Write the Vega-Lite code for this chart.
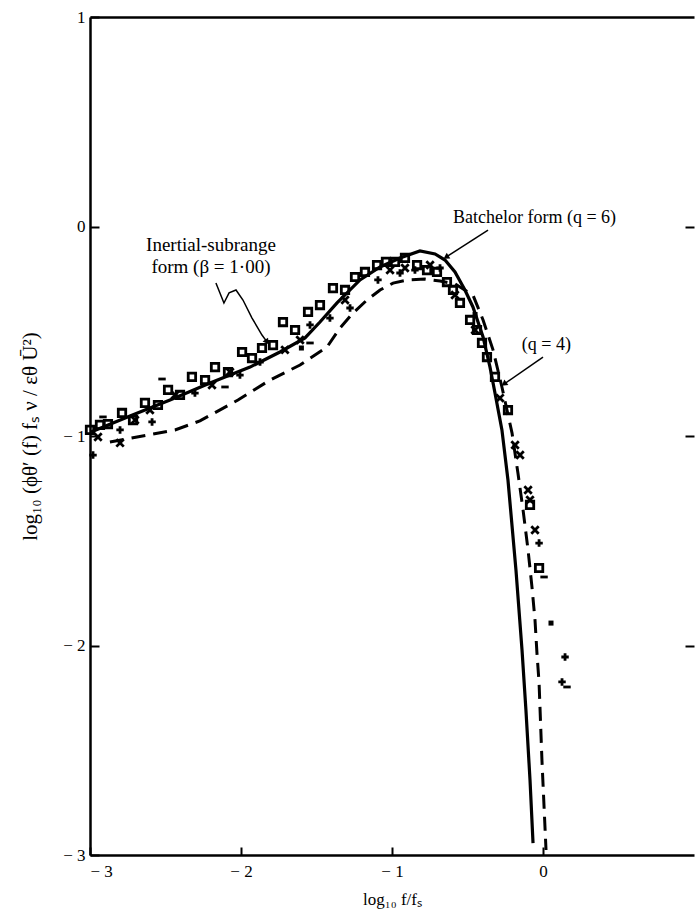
{
  "$schema": "https://vega.github.io/schema/vega-lite/v6.json",
  "width": 604,
  "height": 838,
  "autosize": {"type": "none"},
  "padding": {"left": 90, "top": 17, "right": 1, "bottom": 58},
  "background": "white",
  "config": {
    "view": {"stroke": null},
    "font": "Liberation Serif",
    "axis": {
      "labelFont": "Liberation Serif",
      "titleFont": "Liberation Serif",
      "domainColor": "black",
      "tickColor": "black",
      "labelColor": "black",
      "titleColor": "black",
      "grid": false,
      "domainWidth": 2.5,
      "tickWidth": 2,
      "labelFontSize": 17,
      "titleFontSize": 17,
      "titleFontWeight": "normal"
    }
  },
  "datasets": {
    "pts": [
      {"x": -3.0, "y": -0.971, "type": "sq"},
      {"x": -2.934, "y": -0.947, "type": "sq"},
      {"x": -2.881, "y": -0.943, "type": "sq"},
      {"x": -2.788, "y": -0.89, "type": "sq"},
      {"x": -2.715, "y": -0.924, "type": "sq"},
      {"x": -2.636, "y": -0.842, "type": "sq"},
      {"x": -2.55, "y": -0.852, "type": "sq"},
      {"x": -2.483, "y": -0.78, "type": "sq"},
      {"x": -2.404, "y": -0.804, "type": "sq"},
      {"x": -2.325, "y": -0.718, "type": "sq"},
      {"x": -2.238, "y": -0.733, "type": "sq"},
      {"x": -2.172, "y": -0.671, "type": "sq"},
      {"x": -2.086, "y": -0.695, "type": "sq"},
      {"x": -1.993, "y": -0.599, "type": "sq"},
      {"x": -1.927, "y": -0.628, "type": "sq"},
      {"x": -1.861, "y": -0.58, "type": "sq"},
      {"x": -1.788, "y": -0.566, "type": "sq"},
      {"x": -1.722, "y": -0.456, "type": "sq"},
      {"x": -1.642, "y": -0.494, "type": "sq"},
      {"x": -1.556, "y": -0.408, "type": "sq"},
      {"x": -1.477, "y": -0.375, "type": "sq"},
      {"x": -1.391, "y": -0.294, "type": "sq"},
      {"x": -1.311, "y": -0.303, "type": "sq"},
      {"x": -1.245, "y": -0.241, "type": "sq"},
      {"x": -1.179, "y": -0.217, "type": "sq"},
      {"x": -1.099, "y": -0.184, "type": "sq"},
      {"x": -1.04, "y": -0.169, "type": "sq"},
      {"x": -0.98, "y": -0.169, "type": "sq"},
      {"x": -0.914, "y": -0.15, "type": "sq"},
      {"x": -0.834, "y": -0.184, "type": "sq"},
      {"x": -0.768, "y": -0.208, "type": "sq"},
      {"x": -0.702, "y": -0.217, "type": "sq"},
      {"x": -0.636, "y": -0.265, "type": "sq"},
      {"x": -0.596, "y": -0.303, "type": "sq"},
      {"x": -0.55, "y": -0.365, "type": "sq"},
      {"x": -0.483, "y": -0.446, "type": "sq"},
      {"x": -0.437, "y": -0.494, "type": "sq"},
      {"x": -0.404, "y": -0.556, "type": "sq"},
      {"x": -0.371, "y": -0.623, "type": "sq"},
      {"x": -0.318, "y": -0.718, "type": "sq"},
      {"x": -0.232, "y": -0.876, "type": "sq"},
      {"x": -0.086, "y": -1.329, "type": "sq"},
      {"x": -0.026, "y": -1.63, "type": "sq"},
      {"x": -2.947, "y": -1.005, "type": "x"},
      {"x": -2.801, "y": -1.033, "type": "x"},
      {"x": -2.702, "y": -0.924, "type": "x"},
      {"x": -2.603, "y": -0.876, "type": "x"},
      {"x": -2.437, "y": -0.804, "type": "x"},
      {"x": -2.192, "y": -0.757, "type": "x"},
      {"x": -2.073, "y": -0.694, "type": "x"},
      {"x": -1.709, "y": -0.589, "type": "x"},
      {"x": -1.609, "y": -0.542, "type": "x"},
      {"x": -1.311, "y": -0.351, "type": "x"},
      {"x": -1.013, "y": -0.208, "type": "x"},
      {"x": -0.914, "y": -0.198, "type": "x"},
      {"x": -0.748, "y": -0.184, "type": "x"},
      {"x": -0.583, "y": -0.327, "type": "x"},
      {"x": -0.45, "y": -0.494, "type": "x"},
      {"x": -0.285, "y": -0.819, "type": "x"},
      {"x": -0.185, "y": -1.043, "type": "x"},
      {"x": -0.152, "y": -1.091, "type": "x"},
      {"x": -0.099, "y": -1.258, "type": "x"},
      {"x": -0.086, "y": -1.305, "type": "x"},
      {"x": -0.053, "y": -1.449, "type": "x"},
      {"x": -2.98, "y": -1.091, "type": "plus"},
      {"x": -2.801, "y": -0.971, "type": "plus"},
      {"x": -2.589, "y": -0.933, "type": "plus"},
      {"x": -2.305, "y": -0.795, "type": "plus"},
      {"x": -2.007, "y": -0.709, "type": "plus"},
      {"x": -1.874, "y": -0.647, "type": "plus"},
      {"x": -1.543, "y": -0.47, "type": "plus"},
      {"x": -1.411, "y": -0.437, "type": "plus"},
      {"x": -1.278, "y": -0.389, "type": "plus"},
      {"x": -1.093, "y": -0.255, "type": "plus"},
      {"x": -0.947, "y": -0.222, "type": "plus"},
      {"x": -0.848, "y": -0.208, "type": "plus"},
      {"x": -0.682, "y": -0.198, "type": "plus"},
      {"x": -0.026, "y": -1.511, "type": "plus"},
      {"x": 0.146, "y": -2.055, "type": "plus"},
      {"x": 0.126, "y": -2.174, "type": "plus"},
      {"x": -2.914, "y": -0.909, "type": "dash"},
      {"x": -2.523, "y": -0.728, "type": "dash"},
      {"x": -2.106, "y": -0.766, "type": "dash"},
      {"x": -1.543, "y": -0.556, "type": "dash"},
      {"x": 0.007, "y": -1.673, "type": "dash"},
      {"x": 0.159, "y": -2.198, "type": "dash"},
      {"x": 0.053, "y": -1.893, "type": "dot"},
      {"x": -1.6, "y": -0.58, "type": "dot"},
      {"x": -0.45, "y": -0.42, "type": "dot"}
    ],
    "solid": [
      {"x": -2.993, "y": -0.981},
      {"x": -2.735, "y": -0.905},
      {"x": -2.47, "y": -0.828},
      {"x": -2.205, "y": -0.747},
      {"x": -1.94, "y": -0.671},
      {"x": -1.742, "y": -0.599},
      {"x": -1.576, "y": -0.532},
      {"x": -1.477, "y": -0.456},
      {"x": -1.364, "y": -0.365},
      {"x": -1.212, "y": -0.255},
      {"x": -1.079, "y": -0.193},
      {"x": -0.947, "y": -0.15},
      {"x": -0.815, "y": -0.117},
      {"x": -0.715, "y": -0.131},
      {"x": -0.649, "y": -0.16},
      {"x": -0.583, "y": -0.217},
      {"x": -0.517, "y": -0.303},
      {"x": -0.464, "y": -0.384},
      {"x": -0.397, "y": -0.527},
      {"x": -0.351, "y": -0.671},
      {"x": -0.318, "y": -0.795},
      {"x": -0.272, "y": -0.971},
      {"x": -0.232, "y": -1.21},
      {"x": -0.179, "y": -1.64},
      {"x": -0.139, "y": -2.021},
      {"x": -0.113, "y": -2.308},
      {"x": -0.086, "y": -2.642},
      {"x": -0.066, "y": -2.943}
    ],
    "dashed": [
      {"x": -2.868, "y": -1.029},
      {"x": -2.437, "y": -0.971},
      {"x": -2.272, "y": -0.928},
      {"x": -2.02, "y": -0.828},
      {"x": -1.808, "y": -0.733},
      {"x": -1.609, "y": -0.661},
      {"x": -1.43, "y": -0.575},
      {"x": -1.344, "y": -0.484},
      {"x": -1.258, "y": -0.413},
      {"x": -1.166, "y": -0.351},
      {"x": -1.079, "y": -0.303},
      {"x": -0.993, "y": -0.27},
      {"x": -0.894, "y": -0.255},
      {"x": -0.781, "y": -0.251},
      {"x": -0.682, "y": -0.26},
      {"x": -0.583, "y": -0.274},
      {"x": -0.464, "y": -0.327},
      {"x": -0.397, "y": -0.446},
      {"x": -0.331, "y": -0.589},
      {"x": -0.272, "y": -0.766},
      {"x": -0.205, "y": -0.986},
      {"x": -0.166, "y": -1.177},
      {"x": -0.132, "y": -1.353},
      {"x": -0.099, "y": -1.544},
      {"x": -0.073, "y": -1.721},
      {"x": -0.053, "y": -1.878},
      {"x": -0.04, "y": -2.036},
      {"x": -0.026, "y": -2.179},
      {"x": -0.007, "y": -2.547},
      {"x": 0.02, "y": -2.976}
    ],
    "arrows": [
      {"id": "b", "x": -0.364, "y": -0.017},
      {"id": "b", "x": -0.642, "y": -0.146},
      {"id": "q", "x": 0.0, "y": -0.623},
      {"id": "q", "x": -0.258, "y": -0.752},
      {"id": "i", "x": -2.166, "y": -0.27},
      {"id": "i", "x": -2.113, "y": -0.365},
      {"id": "i", "x": -2.079, "y": -0.317},
      {"id": "i", "x": -2.033, "y": -0.303},
      {"id": "i", "x": -1.987, "y": -0.351},
      {"id": "i", "x": -1.927, "y": -0.437},
      {"id": "i", "x": -1.861, "y": -0.518},
      {"id": "i", "x": -1.828, "y": -0.551}
    ],
    "labels": [
      {"x": -0.596, "y": 0.04, "label": "Batchelor form (q = 6)", "a": "left"},
      {"x": -0.14, "y": -0.566, "label": "(q = 4)", "a": "left"},
      {"x": -2.199, "y": -0.088, "label": "Inertial-subrange", "a": "center"},
      {"x": -2.199, "y": -0.193, "label": "form (β = 1·00)", "a": "center"}
    ]
  },
  "layer": [
    {
      "data": {"name": "pts"},
      "mark": {"type": "point", "filled": false, "stroke": "black", "strokeWidth": 2.8, "size": 55, "opacity": 1},
      "encoding": {
        "x": {
          "field": "x", "type": "quantitative",
          "scale": {"domain": [-3, 1], "nice": false, "zero": false},
          "axis": {
            "orient": "bottom", "values": [-3, -2, -1, 0], "tickSize": -8,
            "labelPadding": 16,
            "labelExpr": "datum.value < 0 ? '− ' + abs(datum.value) : datum.label",
            "title": "log₁₀ f/fₛ", "titlePadding": 12, "titleFontSize": 17
          }
        },
        "y": {
          "field": "y", "type": "quantitative",
          "scale": {"domain": [-3, 1], "nice": false, "zero": false},
          "axis": {
            "orient": "left", "values": [-3, -2, -1, 0, 1], "tickSize": -9,
            "labelPadding": 14,
            "labelExpr": "datum.value < 0 ? '− ' + abs(datum.value) : datum.label",
            "title": "log₁₀ (ϕθ′ (f) fₛ ν / εθ  Ū²)", "titlePadding": 22, "titleFontSize": 21
          }
        },
        "shape": {
          "field": "type", "type": "nominal", "legend": null,
          "scale": {
            "domain": ["sq", "x", "plus", "dash", "dot"],
            "range": ["M-1,-1L1,-1L1,1L-1,1Z", "M-1,-1L1,1M1,-1L-1,1", "M-1,0L1,0M0,-1L0,1", "M-1,0L1,0", "M-0.3,-0.3L0.3,-0.3L0.3,0.3L-0.3,0.3Z"]
          }
        }
      }
    },
    {
      "data": {"name": "solid"},
      "mark": {"type": "line", "color": "black", "strokeWidth": 3.2},
      "encoding": {
        "x": {"field": "x", "type": "quantitative", "axis": null},
        "y": {"field": "y", "type": "quantitative", "axis": null}
      }
    },
    {
      "data": {"name": "dashed"},
      "mark": {"type": "line", "color": "black", "strokeWidth": 3, "strokeDash": [14, 8]},
      "encoding": {
        "x": {"field": "x", "type": "quantitative", "axis": {"orient": "top", "ticks": false, "labels": false, "title": null, "domain": true}},
        "y": {"field": "y", "type": "quantitative", "axis": {"orient": "right", "domain": false, "labels": false, "title": null, "values": [-2, -1, 0], "tickSize": -9}}
      }
    },
    {
      "data": {"name": "arrows"},
      "mark": {"type": "line", "color": "black", "strokeWidth": 1.5},
      "encoding": {
        "x": {"field": "x", "type": "quantitative", "axis": null},
        "y": {"field": "y", "type": "quantitative", "axis": null},
        "detail": {"field": "id"}
      }
    },
    {
      "data": {"values": [{"x": -0.642, "y": -0.146}]},
      "mark": {"type": "point", "shape": "triangle-up", "filled": true, "color": "black", "size": 45, "angle": 238, "opacity": 1},
      "encoding": {
        "x": {"field": "x", "type": "quantitative", "axis": null},
        "y": {"field": "y", "type": "quantitative", "axis": null}
      }
    },
    {
      "data": {"values": [{"x": -0.258, "y": -0.752}]},
      "mark": {"type": "point", "shape": "triangle-up", "filled": true, "color": "black", "size": 45, "angle": 233, "opacity": 1},
      "encoding": {
        "x": {"field": "x", "type": "quantitative", "axis": null},
        "y": {"field": "y", "type": "quantitative", "axis": null}
      }
    },
    {
      "data": {"values": [{"x": -1.828, "y": -0.551}]},
      "mark": {"type": "point", "shape": "triangle-up", "filled": true, "color": "black", "size": 45, "angle": 145, "opacity": 1},
      "encoding": {
        "x": {"field": "x", "type": "quantitative", "axis": null},
        "y": {"field": "y", "type": "quantitative", "axis": null}
      }
    },
    {
      "data": {"name": "labels"},
      "transform": [{"filter": "datum.a == 'left'"}],
      "mark": {"type": "text", "align": "left", "baseline": "middle", "font": "Liberation Serif", "fontSize": 18, "color": "black"},
      "encoding": {
        "x": {"field": "x", "type": "quantitative", "axis": null},
        "y": {"field": "y", "type": "quantitative", "axis": null},
        "text": {"field": "label"}
      }
    },
    {
      "data": {"name": "labels"},
      "transform": [{"filter": "datum.a == 'center'"}],
      "mark": {"type": "text", "align": "center", "baseline": "middle", "font": "Liberation Serif", "fontSize": 19, "color": "black"},
      "encoding": {
        "x": {"field": "x", "type": "quantitative", "axis": null},
        "y": {"field": "y", "type": "quantitative", "axis": null},
        "text": {"field": "label"}
      }
    }
  ],
  "resolve": {"axis": {"x": "independent", "y": "independent"}}
}
